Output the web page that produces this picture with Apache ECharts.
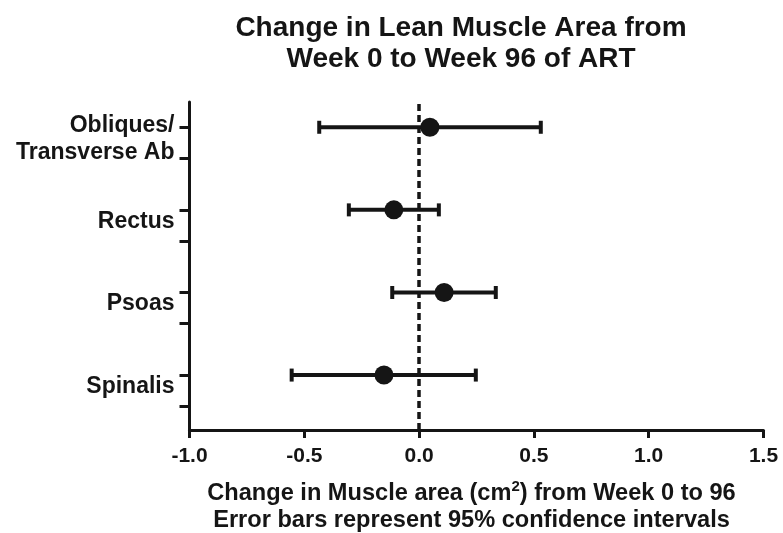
<!DOCTYPE html>
<html><head><meta charset="utf-8">
<script src="https://cdn.jsdelivr.net/npm/echarts@6/dist/echarts.min.js"></script>
<style>html,body{margin:0;padding:0;background:#fff}#c{width:783px;height:533px}</style>
</head><body><div id="c"></div>
<script>
const categories = ['Obliques/\nTransverse Ab', 'Rectus', 'Psoas', 'Spinalis'];
const means = [0.047, -0.110, 0.109, -0.153];
const lower = [-0.435, -0.306, -0.117, -0.555];
const upper = [0.530, 0.086, 0.334, 0.247];
const xTickValues = [-1.0, -0.5, 0.0, 0.5, 1.0, 1.5];

const ink = '#151515';
const font = '"Liberation Sans", Arial, sans-serif';
const n = categories.length;
const yPos = categories.map((c, i) => n - i);
const tickVals = [];
yPos.forEach(v => { tickVals.push(v, v - 0.375); });
const labelVals = yPos.map(v => v - 0.14);

const chart = echarts.init(document.getElementById('c'), null, {renderer: 'canvas'});
chart.setOption({
  backgroundColor: '#fff',
  animation: false,
  title: {
    text: 'Change in Lean Muscle Area from\nWeek 0 to Week 96 of ART',
    left: 456, top: 8, textAlign: 'center',
    textStyle: {fontFamily: font, fontSize: 28, fontWeight: 'bold', color: ink, lineHeight: 31}
  },
  grid: {left: 189.5, right: 19.5, top: 102, bottom: 103, outerBoundsMode: 'none', containLabel: false},
  xAxis: {
    type: 'value', min: xTickValues[0], max: xTickValues[xTickValues.length - 1], interval: 0.5,
    splitLine: {show: false},
    axisLine: {onZero: false, lineStyle: {color: ink, width: 3}},
    axisTick: {length: 8, lineStyle: {color: ink, width: 3}},
    axisLabel: {margin: 16, fontFamily: font, fontSize: 21, fontWeight: 'bold', color: ink,
      formatter: v => v.toFixed(1)},
    name: '{a|Change in Muscle area (cm}{s|2}{a|) from Week 0 to 96}\n{a|Error bars represent 95% confidence intervals}',
    nameLocation: 'middle', nameGap: 50,
    nameTextStyle: {
      fontFamily: font, fontSize: 23.6, fontWeight: 'bold', color: ink, lineHeight: 27,
      padding: [0, 10, 0, 0],
      rich: {
        a: {fontFamily: font, fontSize: 23.6, fontWeight: 'bold', color: ink, lineHeight: 27},
        s: {fontFamily: font, fontSize: 15, fontWeight: 'bold', color: ink, lineHeight: 27, verticalAlign: 'bottom', padding: [0, 0, 13, 0]}
      }
    }
  },
  yAxis: {
    type: 'value', min: 0.335, max: 4.306,
    splitLine: {show: false},
    axisLine: {show: true, onZero: false, lineStyle: {color: ink, width: 3}},
    axisTick: {show: true, customValues: tickVals, length: 10, lineStyle: {color: ink, width: 3}},
    axisLabel: {customValues: labelVals, margin: 15, fontFamily: font, fontSize: 23, fontWeight: 'bold',
      color: ink, lineHeight: 27, align: 'right',
      formatter: v => categories[n - Math.round(v)]}
  },
  series: [
    {
      type: 'custom',
      data: categories.map((c, i) => [lower[i], upper[i], yPos[i]]),
      encode: {x: [0, 1], y: 2},
      renderItem: function (params, api) {
        const y = api.value(2);
        const p1 = api.coord([api.value(0), y]);
        const p2 = api.coord([api.value(1), y]);
        const h = 6.5;
        const style = {stroke: ink, lineWidth: 4};
        return {type: 'group', children: [
          {type: 'line', shape: {x1: p1[0], y1: p1[1], x2: p2[0], y2: p2[1]}, style: style},
          {type: 'line', shape: {x1: p1[0], y1: p1[1] - h, x2: p1[0], y2: p1[1] + h}, style: style},
          {type: 'line', shape: {x1: p2[0], y1: p2[1] - h, x2: p2[0], y2: p2[1] + h}, style: style}
        ]};
      },
      z: 2
    },
    {
      type: 'scatter',
      data: categories.map((c, i) => [means[i], yPos[i]]),
      symbol: 'circle', symbolSize: 19,
      itemStyle: {color: ink, opacity: 1},
      z: 3,
      markLine: {
        silent: true, symbol: 'none', animation: false,
        label: {show: false},
        lineStyle: {color: ink, width: 3.5, type: [7, 4]},
        data: [{xAxis: 0}]
      }
    }
  ]
});
</script></body></html>
